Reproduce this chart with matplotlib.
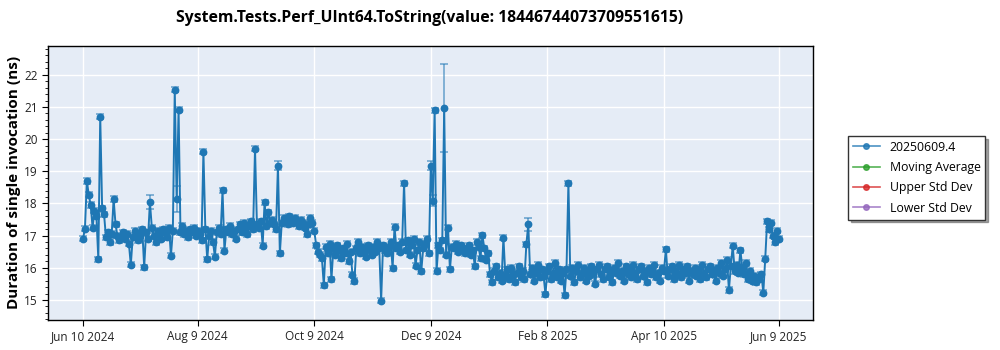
import numpy as np
import pandas as pd
import matplotlib
matplotlib.use("Agg")
import matplotlib.pyplot as plt
from matplotlib.lines import Line2D
from matplotlib.ticker import AutoMinorLocator

plt.rcParams['font.family'] = ['Open Sans', 'DejaVu Sans']

start_date = "2024-06-10"

# one run per day (ns)
durations = [
    16.90, 17.22, 18.70, 18.27, 17.95, 17.25, 17.78, 17.60, 16.27, 20.70,
    17.85, 17.66, 16.95, 17.10, 16.80, 17.05, 18.14, 17.35, 17.00, 16.85,
    16.95, 17.10, 16.90, 17.05, 16.75, 16.09, 16.95, 17.15, 17.05, 16.85,
    17.00, 17.20, 16.02, 17.10, 16.90, 18.04, 17.25, 17.00, 16.80, 17.15,
    17.05, 16.90, 17.20, 17.10, 16.95, 17.25, 16.38, 17.15, 21.53, 18.14,
    20.91, 17.10, 17.30, 17.05, 17.15, 16.95, 17.20, 17.10, 17.25, 17.00,
    17.15, 17.05, 16.85, 19.61, 17.20, 16.27, 17.00, 17.15, 16.80, 16.35,
    17.10, 17.25, 17.05, 18.41, 16.53, 17.20, 17.10, 17.30, 17.05, 17.15,
    16.90, 17.20, 17.35, 17.10, 17.40, 17.25, 17.05, 17.30, 17.45, 17.20,
    19.70, 17.35, 17.25, 17.45, 16.69, 18.04, 17.30, 17.73, 17.40, 17.50,
    17.35, 17.20, 19.18, 16.45, 17.40, 17.55, 17.45, 17.35, 17.60, 17.50,
    17.40, 17.55, 17.45, 17.30, 17.50, 17.40, 17.25, 17.05, 17.35, 17.55,
    17.40, 17.15, 16.70, 16.50, 16.40, 16.30, 15.46, 16.65, 16.45, 16.75,
    15.64, 16.60, 16.40, 16.70, 16.55, 16.30, 16.60, 16.45, 16.75, 16.20,
    16.50, 15.78, 15.59, 16.60, 16.80, 16.45, 16.65, 16.50, 16.35, 16.70,
    16.55, 16.40, 16.65, 16.50, 16.80, 16.60, 14.98, 16.70, 16.55, 16.45,
    16.65, 16.80, 15.99, 17.27, 16.60, 16.70, 16.50, 16.80, 18.63, 16.55,
    16.85, 16.40, 16.70, 16.90, 16.06, 16.55, 16.80, 15.89, 16.60, 16.75,
    16.90, 16.45, 19.18, 18.08, 20.90, 15.90, 16.70, 16.55, 16.85, 20.96,
    16.40, 17.25, 15.95, 16.65, 16.60, 16.75, 16.50, 16.65, 16.70, 16.55,
    16.45, 16.60, 16.70, 16.40, 16.55, 16.05, 16.80, 16.65, 16.30, 17.01,
    16.60, 16.25, 16.45, 15.80, 15.55, 15.90, 16.05, 15.70, 15.85, 15.60,
    16.94, 15.75, 15.95, 15.65, 16.00, 15.80, 15.55, 15.85, 16.05, 15.70,
    15.90, 15.65, 16.73, 17.35, 15.80, 16.00, 15.60, 15.85, 16.10, 15.70,
    15.95, 15.75, 15.18, 15.90, 16.05, 15.65, 15.85, 16.15, 15.70, 15.95,
    15.60, 15.85, 15.15, 15.95, 18.63, 15.75, 16.00, 15.55, 15.90, 16.10,
    15.70, 15.85, 16.00, 15.60, 15.90, 15.75, 16.05, 15.85, 15.50, 15.95,
    16.10, 15.80, 15.65, 15.95, 16.05, 15.70, 15.90, 15.55, 16.00, 15.85,
    16.15, 15.75, 15.90, 15.60, 16.05, 15.80, 15.95, 15.70, 16.10, 15.85,
    15.65, 15.95, 16.05, 15.75, 15.90, 15.55, 16.00, 15.80, 15.95, 16.10,
    15.70, 15.85, 15.60, 16.00, 15.90, 16.58, 15.75, 15.95, 16.05, 15.65,
    15.90, 15.80, 16.10, 15.70, 15.95, 15.85, 16.05, 15.60, 15.90, 15.80,
    16.00, 15.75, 15.95, 15.65, 16.10, 15.85, 15.70, 15.95, 16.05, 15.80,
    15.90, 15.60, 16.00, 15.85, 16.15, 15.75, 15.95, 16.25, 15.31, 16.05,
    16.69, 15.90, 16.10, 15.85, 16.55, 16.00, 15.80, 16.15, 15.65, 15.90,
    15.60, 15.75, 15.55, 15.70, 15.65, 15.80, 15.23, 16.28, 17.45, 17.20,
    17.40, 17.00, 16.80, 17.15, 16.90,
]

# typical error bar half-width, plus the few runs with wider bars
base_err = 0.08
wide_err_days = [35, 49, 102, 182, 183, 189, 233]
wide_err_vals = [0.22, 0.40, 0.13, 0.13, 0.17, 1.37, 0.20]

dates = pd.date_range(start_date, periods=len(durations), freq="D")
yerr = np.full(len(durations), base_err)
for d, e in zip(wide_err_days, wide_err_vals):
    yerr[d] = e

blue = '#1f77b4'

fig = plt.figure(figsize=(10, 3.5), dpi=100)
ax = fig.add_axes([0.048, 0.086, 0.765, 0.783])
ax.set_facecolor('#E5ECF6')

ax.errorbar(dates, durations, yerr=yerr, fmt='none', ecolor=blue, alpha=0.55,
            elinewidth=1.3, capsize=3.2, capthick=1.3, zorder=2)
ax.plot(dates, durations, '-o', color=blue, lw=1.4, markersize=4.6, zorder=3)

ax.grid(True, color='white', lw=1.0, zorder=0)
ax.set_axisbelow(True)
for s in ax.spines.values():
    s.set_color('black')
    s.set_linewidth(1.0)

ax.set_ylim(14.38, 22.9)
ax.set_yticks([15, 16, 17, 18, 19, 20, 21, 22])
ax.yaxis.set_minor_locator(AutoMinorLocator(5))
ax.set_xlim(pd.Timestamp("2024-05-22 16:00"), pd.Timestamp("2025-06-27 00:00"))
tick_dates = pd.to_datetime(["2024-06-10", "2024-08-09", "2024-10-09", "2024-12-09",
                             "2025-02-08", "2025-04-10", "2025-06-09"])
ax.set_xticks(tick_dates)
ax.set_xticklabels([f"{d:%b} {d.day} {d.year}" for d in tick_dates])
ax.tick_params(labelsize=8.5, length=4, color='black', labelcolor='#222222')
ax.tick_params(which='minor', length=2)

ax.set_ylabel('Duration of single invocation (ns)', fontsize=11, fontweight='bold',
              labelpad=2)
fig.suptitle('System.Tests.Perf_UInt64.ToString(value: 18446744073709551615)',
             x=0.43, y=0.972, fontsize=11.3, fontweight='bold')

handles = [Line2D([], [], color=c, marker='o', markersize=4, lw=1.2, alpha=0.8)
           for c in [blue, '#2ca02c', '#d62728', '#9467bd']]
labels = ['20250609.4', 'Moving Average', 'Upper Std Dev', 'Lower Std Dev']
leg = fig.legend(handles, labels, loc='upper left', bbox_to_anchor=(0.848, 0.612),
                 borderaxespad=0, fontsize=8.8, fancybox=False, shadow=True,
                 framealpha=1, edgecolor='#333333', handlelength=2.2,
                 labelspacing=0.6)

fig.savefig('out.png', dpi=100)
